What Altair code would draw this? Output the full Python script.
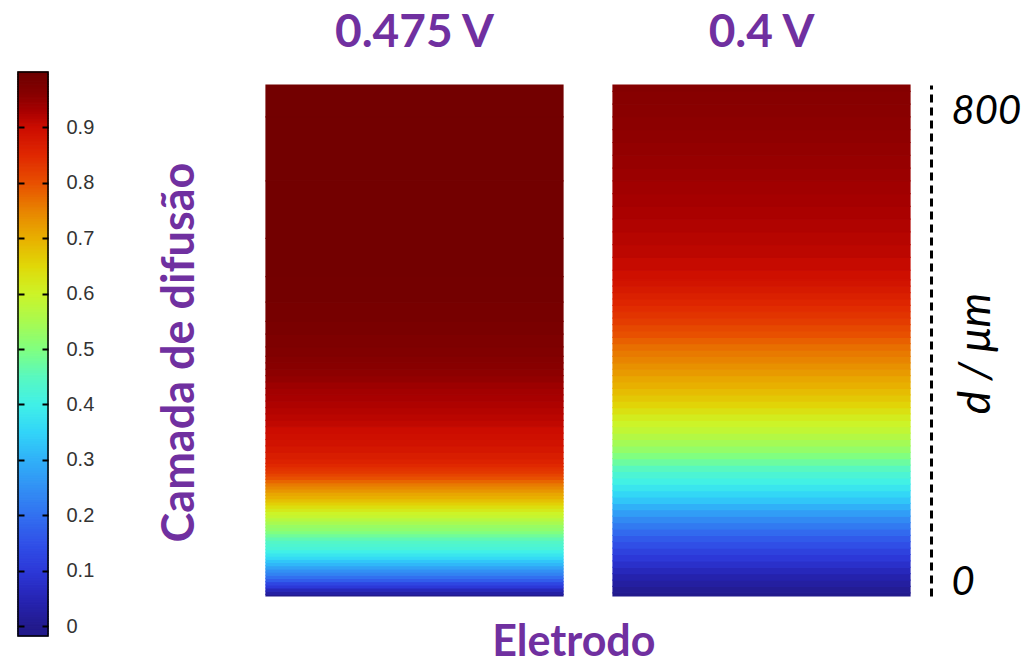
import altair as alt
import numpy as np
import pandas as pd

# Normalised concentration across the diffusion layer (distance from electrode, μm)
depth_0475 = [0, 5, 10, 15, 20, 25, 30, 35, 40, 45, 50, 55, 60, 65, 70, 75, 80, 85, 90, 95,
              100, 105, 110, 115, 120, 125, 130, 135, 140, 145, 150, 155, 160, 165, 170, 175,
              180, 185, 190, 195, 200, 205, 210, 220, 230, 240, 250, 260, 270, 280, 290, 300,
              310, 320, 330, 340, 350, 360, 370, 380, 400, 420, 440, 480, 520, 600, 700, 800]
conc_0475 = [0.00, 0.03, 0.06, 0.10, 0.13, 0.17, 0.20, 0.23, 0.25, 0.28, 0.31, 0.33, 0.36, 0.38,
             0.40, 0.42, 0.43, 0.44, 0.46, 0.48, 0.50, 0.52, 0.53, 0.55, 0.57, 0.59, 0.60, 0.62,
             0.64, 0.66, 0.68, 0.70, 0.71, 0.73, 0.745, 0.76, 0.78, 0.80, 0.815, 0.83, 0.84, 0.85,
             0.86, 0.87, 0.88, 0.89, 0.895, 0.90, 0.91, 0.915, 0.92, 0.925, 0.93, 0.935, 0.94,
             0.95, 0.955, 0.96, 0.965, 0.97, 0.975, 0.98, 0.985, 0.988, 0.99, 0.99, 0.99, 0.99]

depth_04 = list(range(0, 501, 10)) + list(range(520, 801, 20))
conc_04 = [0.00, 0.01, 0.025, 0.04, 0.06, 0.08, 0.10, 0.12, 0.145, 0.165, 0.19, 0.215, 0.24,
           0.27, 0.30, 0.33, 0.355, 0.38, 0.405, 0.425, 0.45, 0.475, 0.50, 0.525, 0.545, 0.565,
           0.585, 0.60, 0.615, 0.635, 0.655, 0.67, 0.685, 0.70, 0.71, 0.725, 0.735, 0.75, 0.76,
           0.77, 0.785, 0.80, 0.81, 0.825, 0.835, 0.845, 0.855, 0.865, 0.875, 0.885, 0.895,
           0.905, 0.913, 0.918, 0.923, 0.928, 0.933, 0.937, 0.942, 0.946, 0.95, 0.953, 0.956,
           0.959, 0.962, 0.965]

panel_titles = ["0.475 V", "0.4 V"]
cbar_ticks = [0, 0.1, 0.2, 0.3, 0.4, 0.5, 0.6, 0.7, 0.8, 0.9]
depth_ticks = [0, 800]

# Rainbow colour map (value stops and colours)
cmap_stops = [0.00, 0.05, 0.10, 0.15, 0.20, 0.25, 0.30, 0.35, 0.40, 0.45, 0.50, 0.55, 0.60,
              0.65, 0.70, 0.75, 0.80, 0.85, 0.90, 0.93, 0.96, 1.00]
cmap_colors = ["#221a8c", "#2624b4", "#2c38d8", "#3050e8", "#3270f0", "#3290f4", "#30b0f8",
               "#32d4f8", "#40f0e8", "#58f8c0", "#80ff80", "#a8fa50", "#ccf428", "#e0d808",
               "#e8b000", "#e88400", "#e85000", "#e02800", "#cc0c00", "#a80000", "#880000",
               "#6c0000"]

PURPLE = "#7030A0"
TITLE_FONT = "Lato"
SEAM = 1.2   # rect outline in its own fill colour hides anti-aliasing seams between rows


def cscale():
    return alt.Scale(domain=cmap_stops, range=cmap_colors, interpolate="rgb", clamp=True)


def bands(name, depth, conc):
    d = np.asarray(depth, dtype=float)
    mids = (d[:-1] + d[1:]) / 2
    lo = np.concatenate([[d[0]], mids])
    hi = np.concatenate([mids, [d[-1]]])
    return pd.DataFrame({"panel": name, "lo": lo, "hi": hi, "c": conc})


# ---- colour bar -------------------------------------------------------------
CB_W, CB_H = 30, 551
cb_lo, cb_hi = -0.018, 1.0
cb_view_top = cb_hi - 13 * (cb_hi - cb_lo) / (CB_H + 13)   # bar rises 13 px above the panels
levels = np.linspace(cb_lo, cb_hi, 232)
cbar_df = pd.DataFrame({"lo": levels[:-1], "hi": levels[1:],
                        "c": (levels[:-1] + levels[1:]) / 2})
frame_df = pd.DataFrame({"lo": [cb_lo], "hi": [cb_hi]})
cb_y_scale = alt.Scale(domain=[cb_lo, cb_view_top], nice=False, zero=False)

# ticks run across the bar; the dash pattern leaves only a short stub on each edge
cb_axis = alt.Axis(orient="right", values=cbar_ticks, format=".1~f", domain=False,
                   grid=False, ticks=True, tickSize=CB_W, tickWidth=2,
                   tickColor="black", tickDash=[6, CB_W - 12], offset=-CB_W, zindex=1,
                   labelPadding=18, labelFont="Liberation Sans",
                   labelFontSize=20, labelColor="#333333",
                   title="Camada de difusão", titleFont=TITLE_FONT, titleFontSize=45,
                   titleFontWeight="bold", titleColor=PURPLE, titleAngle=270,
                   titleX=161, titleY=267, titleAlign="center", titleBaseline="middle")

cb_fill = alt.Chart(cbar_df).mark_rect(strokeWidth=SEAM).encode(
    y=alt.Y("lo:Q", scale=cb_y_scale, axis=cb_axis),
    y2="hi:Q",
    color=alt.Color("c:Q", scale=cscale(), legend=None),
    stroke=alt.Stroke("c:Q", scale=cscale(), legend=None),
)
cb_frame = alt.Chart(frame_df).mark_rect(fillOpacity=0, stroke="black", strokeWidth=1.5).encode(
    y=alt.Y("lo:Q", scale=cb_y_scale, axis=cb_axis),
    y2="hi:Q",
)
colorbar = alt.layer(cb_fill, cb_frame).properties(width=CB_W, height=CB_H)

# ---- concentration panels ---------------------------------------------------
panel_df = pd.concat([bands(panel_titles[0], depth_0475, conc_0475),
                      bands(panel_titles[1], depth_04, conc_04)], ignore_index=True)

PANEL_W, GAP = 297, 50
panels = alt.Chart(panel_df).mark_rect(strokeWidth=SEAM).encode(
    x=alt.X("panel:N", sort=panel_titles,
            scale=alt.Scale(paddingInner=GAP / (PANEL_W + GAP), paddingOuter=0),
            axis=alt.Axis(orient="top", title=None, ticks=False, tickSize=0, domain=False,
                          labelAngle=0, labelFont=TITLE_FONT, labelFontSize=46,
                          labelFontWeight="bold", labelColor=PURPLE, labelPadding=39,
                          labelBaseline="alphabetic")),
    y=alt.Y("lo:Q", scale=alt.Scale(domain=[0, 800], nice=False, zero=False),
            axis=alt.Axis(orient="right", values=depth_ticks, offset=21, grid=False,
                          domainDash=[8, 5], domainColor="black", domainWidth=3,
                          ticks=False, tickSize=0, labelFlush=True, labelOffset=6,
                          labelFont=TITLE_FONT, labelFontStyle="italic", labelFontSize=40,
                          labelColor="black", labelPadding=20,
                          title="d / μm", titleFont=TITLE_FONT, titleFontStyle="italic",
                          titleFontWeight="normal", titleFontSize=44, titleColor="black",
                          titleAngle=270, titleX=45, titleY=268, titleAlign="center",
                          titleBaseline="middle")),
    y2="hi:Q",
    color=alt.Color("c:Q", scale=cscale(), legend=None),
    stroke=alt.Stroke("c:Q", scale=cscale(), legend=None),
).properties(width=2 * PANEL_W + GAP, height=511)

chart = alt.hconcat(colorbar, panels, spacing=218, bounds="flush").properties(
    title=alt.TitleParams(text="Eletrodo", orient="bottom", anchor="middle",
                          font=TITLE_FONT, fontSize=43, fontWeight="bold", color=PURPLE,
                          baseline="alphabetic", offset=19, dx=55),
    padding={"left": 17, "top": 9, "right": 5, "bottom": 5},
    background="white",
).configure_view(strokeWidth=0)

chart.save("out.html", embed_options={"renderer": "svg", "actions": False})
